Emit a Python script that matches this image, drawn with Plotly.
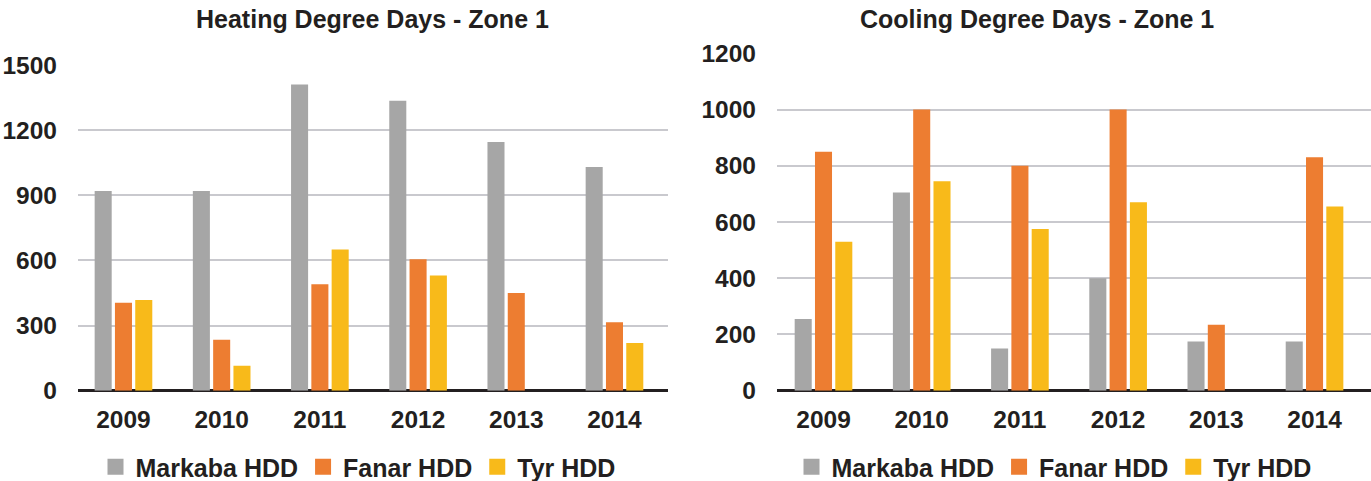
import plotly.graph_objects as go

years = ["2009", "2010", "2011", "2012", "2013", "2014"]

heat_markaba = [920, 920, 1410, 1335, 1145, 1030]
heat_fanar = [405, 235, 490, 605, 450, 315]
heat_tyr = [418, 115, 650, 530, None, 220]

cool_markaba = [255, 705, 150, 400, 175, 175]
cool_fanar = [850, 1000, 800, 1000, 235, 830]
cool_tyr = [530, 745, 575, 670, None, 655]

series_names = ["Markaba HDD", "Fanar HDD", "Tyr HDD"]
colors = ["#A6A6A6", "#ED7D31", "#F8BA1A"]

heat_ticks = [0, 300, 600, 900, 1200, 1500]
cool_ticks = [0, 200, 400, 600, 800, 1000, 1200]

W, H = 1371, 481
FONT = "Liberation Sans, Arial, Helvetica, sans-serif"
TXT = "#231F20"

fig = go.Figure()

panels = [
    ("x", "y", "legend", [heat_markaba, heat_fanar, heat_tyr]),
    ("x2", "y2", "legend2", [cool_markaba, cool_fanar, cool_tyr]),
]
for xa, ya, lg, data in panels:
    for name, vals, col in zip(series_names, data, colors):
        fig.add_trace(go.Bar(x=years, y=vals, name=name, marker=dict(color=col, line=dict(width=0)),
                             xaxis=xa, yaxis=ya, showlegend=False, hoverinfo="x+y+name"))
    # legend entries with larger square swatches (no data drawn)
    for name, col in zip(series_names, colors):
        fig.add_trace(go.Scatter(x=[None], y=[None], mode="markers", name=name,
                                 marker=dict(symbol="square", size=16, color=col, line=dict(width=0)),
                                 xaxis=xa, yaxis=ya, legend=lg, showlegend=True))

def px_x(p):
    return p / W

def px_y(p):
    return (H - p) / H

tick_font = dict(family=FONT, size=24.5, color=TXT, weight="bold")
leg_font = dict(family=FONT, size=25, color=TXT, weight="bold")

common_x = dict(type="category", showgrid=False, zeroline=False, showline=False, ticks="",
                tickfont=tick_font, ticklabelstandoff=12, fixedrange=True)
common_y = dict(showgrid=True, gridcolor="#C9C9CE", gridwidth=2, zeroline=True,
                zerolinecolor=TXT, zerolinewidth=3, showline=False, ticks="",
                tickfont=tick_font, ticklabelstandoff=20)

fig.update_layout(
    width=W, height=H,
    margin=dict(l=0, r=0, t=0, b=0, pad=0, autoexpand=False),
    paper_bgcolor="white", plot_bgcolor="white",
    barmode="group", bargap=0.38, bargroupgap=0.16,
    font=dict(family=FONT, color=TXT),
    xaxis=dict(common_x, domain=[px_x(78), px_x(668)], range=[-0.463, 5.545], anchor="y"),
    yaxis=dict(common_y, domain=[px_y(390.7), px_y(65)], range=[0, 1500],
               tickvals=heat_ticks, anchor="x"),
    xaxis2=dict(common_x, domain=[px_x(777), 1.0], range=[-0.4735, 5.575], anchor="y2"),
    yaxis2=dict(common_y, domain=[px_y(390.7), px_y(53.3)], range=[0, 1200],
                tickvals=cool_ticks, anchor="x2"),
    legend=dict(orientation="h", x=px_x(358), xanchor="center", y=px_y(467), yanchor="middle",
                font=leg_font, bgcolor="rgba(0,0,0,0)", itemsizing="trace", tracegroupgap=0),
    legend2=dict(orientation="h", x=px_x(1054), xanchor="center", y=px_y(467), yanchor="middle",
                 font=leg_font, bgcolor="rgba(0,0,0,0)", itemsizing="trace", tracegroupgap=0),
    annotations=[
        dict(text="<b>Heating Degree Days - Zone 1</b>", x=px_x(372), y=px_y(19),
             xref="paper", yref="paper", xanchor="center", yanchor="middle", showarrow=False,
             font=dict(family=FONT, size=25, color=TXT)),
        dict(text="<b>Cooling Degree Days - Zone 1</b>", x=px_x(1037), y=px_y(19),
             xref="paper", yref="paper", xanchor="center", yanchor="middle", showarrow=False,
             font=dict(family=FONT, size=25, color=TXT)),
    ],
)

fig.write_html("out.html", config={"displayModeBar": False},
               post_script="document.body.style.margin='0px';document.body.style.overflow='hidden';")
